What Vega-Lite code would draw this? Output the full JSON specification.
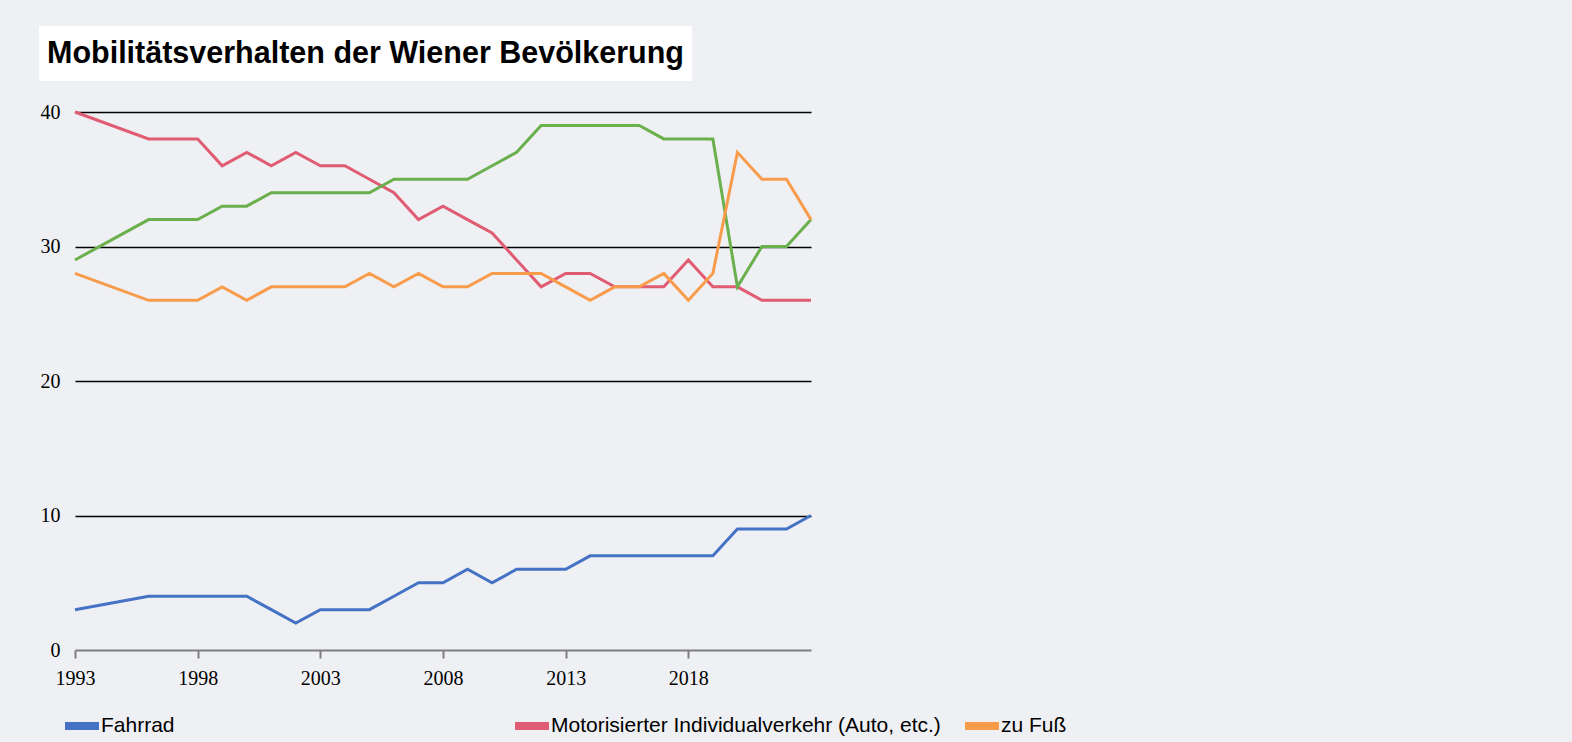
{
  "$schema": "https://vega.github.io/schema/vega-lite/v6.json",
  "background": "#eff0f4",
  "padding": {"left": 39, "top": 26, "right": 520, "bottom": 4},
  "spacing": 21,
  "config": {"view": {"stroke": null}},
  "vconcat": [
    {
      "width": 653,
      "height": 55,
      "view": {"fill": "white", "stroke": null},
      "data": {"values": [{"t": "Mobilitätsverhalten der Wiener Bevölkerung"}]},
      "mark": {"type": "text", "font": "Liberation Sans", "fontWeight": "bold", "fontSize": 30.5, "baseline": "middle", "align": "center", "color": "#000000"},
      "encoding": {"text": {"field": "t"}}
    },
    {
      "spacing": 0,
      "hconcat": [
        {
          "width": 1,
          "height": 1,
          "data": {"values": [{"t": ""}]},
          "mark": {"type": "text"},
          "encoding": {"text": {"field": "t"}}
        },
        {
          "width": 736,
          "height": 538,
          "data": {"values": [
            {"year":1993,"m":"Fahrrad","v":3},{"year":1996,"m":"Fahrrad","v":4},{"year":1998,"m":"Fahrrad","v":4},{"year":1999,"m":"Fahrrad","v":4},{"year":2000,"m":"Fahrrad","v":4},{"year":2001,"m":"Fahrrad","v":3},{"year":2002,"m":"Fahrrad","v":2},{"year":2003,"m":"Fahrrad","v":3},{"year":2004,"m":"Fahrrad","v":3},{"year":2005,"m":"Fahrrad","v":3},{"year":2006,"m":"Fahrrad","v":4},{"year":2007,"m":"Fahrrad","v":5},{"year":2008,"m":"Fahrrad","v":5},{"year":2009,"m":"Fahrrad","v":6},{"year":2010,"m":"Fahrrad","v":5},{"year":2011,"m":"Fahrrad","v":6},{"year":2012,"m":"Fahrrad","v":6},{"year":2013,"m":"Fahrrad","v":6},{"year":2014,"m":"Fahrrad","v":7},{"year":2015,"m":"Fahrrad","v":7},{"year":2016,"m":"Fahrrad","v":7},{"year":2017,"m":"Fahrrad","v":7},{"year":2018,"m":"Fahrrad","v":7},{"year":2019,"m":"Fahrrad","v":7},{"year":2020,"m":"Fahrrad","v":9},{"year":2021,"m":"Fahrrad","v":9},{"year":2022,"m":"Fahrrad","v":9},{"year":2023,"m":"Fahrrad","v":10},
            {"year":1993,"m":"Motorisierter Individualverkehr (Auto, etc.)","v":40},{"year":1996,"m":"Motorisierter Individualverkehr (Auto, etc.)","v":38},{"year":1998,"m":"Motorisierter Individualverkehr (Auto, etc.)","v":38},{"year":1999,"m":"Motorisierter Individualverkehr (Auto, etc.)","v":36},{"year":2000,"m":"Motorisierter Individualverkehr (Auto, etc.)","v":37},{"year":2001,"m":"Motorisierter Individualverkehr (Auto, etc.)","v":36},{"year":2002,"m":"Motorisierter Individualverkehr (Auto, etc.)","v":37},{"year":2003,"m":"Motorisierter Individualverkehr (Auto, etc.)","v":36},{"year":2004,"m":"Motorisierter Individualverkehr (Auto, etc.)","v":36},{"year":2005,"m":"Motorisierter Individualverkehr (Auto, etc.)","v":35},{"year":2006,"m":"Motorisierter Individualverkehr (Auto, etc.)","v":34},{"year":2007,"m":"Motorisierter Individualverkehr (Auto, etc.)","v":32},{"year":2008,"m":"Motorisierter Individualverkehr (Auto, etc.)","v":33},{"year":2009,"m":"Motorisierter Individualverkehr (Auto, etc.)","v":32},{"year":2010,"m":"Motorisierter Individualverkehr (Auto, etc.)","v":31},{"year":2011,"m":"Motorisierter Individualverkehr (Auto, etc.)","v":29},{"year":2012,"m":"Motorisierter Individualverkehr (Auto, etc.)","v":27},{"year":2013,"m":"Motorisierter Individualverkehr (Auto, etc.)","v":28},{"year":2014,"m":"Motorisierter Individualverkehr (Auto, etc.)","v":28},{"year":2015,"m":"Motorisierter Individualverkehr (Auto, etc.)","v":27},{"year":2016,"m":"Motorisierter Individualverkehr (Auto, etc.)","v":27},{"year":2017,"m":"Motorisierter Individualverkehr (Auto, etc.)","v":27},{"year":2018,"m":"Motorisierter Individualverkehr (Auto, etc.)","v":29},{"year":2019,"m":"Motorisierter Individualverkehr (Auto, etc.)","v":27},{"year":2020,"m":"Motorisierter Individualverkehr (Auto, etc.)","v":27},{"year":2021,"m":"Motorisierter Individualverkehr (Auto, etc.)","v":26},{"year":2022,"m":"Motorisierter Individualverkehr (Auto, etc.)","v":26},{"year":2023,"m":"Motorisierter Individualverkehr (Auto, etc.)","v":26},
            {"year":1993,"m":"Öffentlicher Verkehr","v":29},{"year":1996,"m":"Öffentlicher Verkehr","v":32},{"year":1998,"m":"Öffentlicher Verkehr","v":32},{"year":1999,"m":"Öffentlicher Verkehr","v":33},{"year":2000,"m":"Öffentlicher Verkehr","v":33},{"year":2001,"m":"Öffentlicher Verkehr","v":34},{"year":2002,"m":"Öffentlicher Verkehr","v":34},{"year":2003,"m":"Öffentlicher Verkehr","v":34},{"year":2004,"m":"Öffentlicher Verkehr","v":34},{"year":2005,"m":"Öffentlicher Verkehr","v":34},{"year":2006,"m":"Öffentlicher Verkehr","v":35},{"year":2007,"m":"Öffentlicher Verkehr","v":35},{"year":2008,"m":"Öffentlicher Verkehr","v":35},{"year":2009,"m":"Öffentlicher Verkehr","v":35},{"year":2010,"m":"Öffentlicher Verkehr","v":36},{"year":2011,"m":"Öffentlicher Verkehr","v":37},{"year":2012,"m":"Öffentlicher Verkehr","v":39},{"year":2013,"m":"Öffentlicher Verkehr","v":39},{"year":2014,"m":"Öffentlicher Verkehr","v":39},{"year":2015,"m":"Öffentlicher Verkehr","v":39},{"year":2016,"m":"Öffentlicher Verkehr","v":39},{"year":2017,"m":"Öffentlicher Verkehr","v":38},{"year":2018,"m":"Öffentlicher Verkehr","v":38},{"year":2019,"m":"Öffentlicher Verkehr","v":38},{"year":2020,"m":"Öffentlicher Verkehr","v":27},{"year":2021,"m":"Öffentlicher Verkehr","v":30},{"year":2022,"m":"Öffentlicher Verkehr","v":30},{"year":2023,"m":"Öffentlicher Verkehr","v":32},
            {"year":1993,"m":"zu Fuß","v":28},{"year":1996,"m":"zu Fuß","v":26},{"year":1998,"m":"zu Fuß","v":26},{"year":1999,"m":"zu Fuß","v":27},{"year":2000,"m":"zu Fuß","v":26},{"year":2001,"m":"zu Fuß","v":27},{"year":2002,"m":"zu Fuß","v":27},{"year":2003,"m":"zu Fuß","v":27},{"year":2004,"m":"zu Fuß","v":27},{"year":2005,"m":"zu Fuß","v":28},{"year":2006,"m":"zu Fuß","v":27},{"year":2007,"m":"zu Fuß","v":28},{"year":2008,"m":"zu Fuß","v":27},{"year":2009,"m":"zu Fuß","v":27},{"year":2010,"m":"zu Fuß","v":28},{"year":2011,"m":"zu Fuß","v":28},{"year":2012,"m":"zu Fuß","v":28},{"year":2013,"m":"zu Fuß","v":27},{"year":2014,"m":"zu Fuß","v":26},{"year":2015,"m":"zu Fuß","v":27},{"year":2016,"m":"zu Fuß","v":27},{"year":2017,"m":"zu Fuß","v":28},{"year":2018,"m":"zu Fuß","v":26},{"year":2019,"m":"zu Fuß","v":28},{"year":2020,"m":"zu Fuß","v":37},{"year":2021,"m":"zu Fuß","v":35},{"year":2022,"m":"zu Fuß","v":35},{"year":2023,"m":"zu Fuß","v":32}
          ]},
          "mark": {"type": "line", "strokeWidth": 3},
          "encoding": {
            "x": {
              "field": "year", "type": "quantitative",
              "scale": {"domain": [1993, 2023], "nice": false, "zero": false},
              "axis": {
                "title": null, "values": [1993, 1998, 2003, 2008, 2013, 2018], "format": "d",
                "grid": false, "domainColor": "#7f7f7f", "domainWidth": 2,
                "tickColor": "#7f7f7f", "tickWidth": 2, "tickSize": 8,
                "labelFont": "Liberation Serif", "labelFontSize": 20, "labelColor": "#000000",
                "labelPadding": 10, "labelFlush": false
              }
            },
            "y": {
              "field": "v", "type": "quantitative",
              "scale": {"domain": [0, 40], "nice": false},
              "axis": {
                "title": null, "values": [0, 10, 20, 30, 40],
                "domain": false, "ticks": false,
                "grid": true, "gridColor": "#000000", "gridWidth": 1.5,
                "gridOpacity": {"condition": {"test": "datum.value === 0", "value": 0}, "value": 1},
                "labelFont": "Liberation Serif", "labelFontSize": 20, "labelColor": "#000000",
                "labelPadding": 15
              }
            },
            "color": {
              "field": "m", "type": "nominal",
              "scale": {
                "domain": ["Fahrrad", "Motorisierter Individualverkehr (Auto, etc.)", "zu Fuß", "Öffentlicher Verkehr"],
                "range": ["#4472c4", "#e05c72", "#f89c4c", "#6ab04c"]
              },
              "legend": {
                "values": ["Fahrrad", "Motorisierter Individualverkehr (Auto, etc.)", "zu Fuß"],
                "title": null, "orient": "none", "legendX": 22, "legendY": 679,
                "direction": "horizontal", "columns": 3, "gridAlign": "all", "columnPadding": 8,
                "symbolType": "stroke", "symbolSize": 1156, "symbolStrokeWidth": 8,
                "labelFont": "Liberation Sans", "labelFontSize": 21, "labelColor": "#000000",
                "labelLimit": 600, "labelOffset": -2, "padding": 0
              }
            }
          }
        }
      ]
    }
  ]
}
